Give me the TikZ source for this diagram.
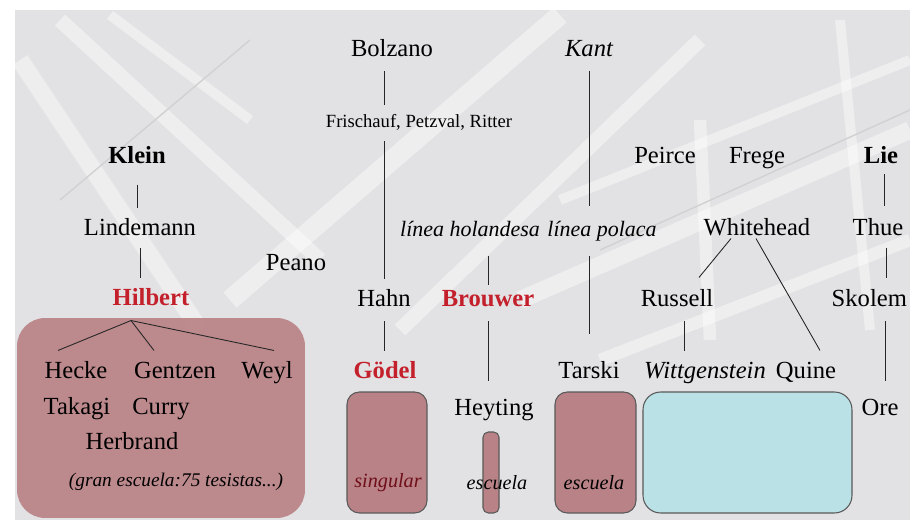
\documentclass[tikz,border=0pt]{standalone}
\usepackage{fontspec}
\setmainfont{Liberation Serif}
\usepackage{xcolor}
\usepackage{tikz}
\usetikzlibrary{positioning, calc}

\definecolor{hilbertred}{RGB}{196,32,44}
\definecolor{schoolrose}{RGB}{185,130,134}
\definecolor{schoolcyan}{RGB}{186,225,230}
\definecolor{photogray}{RGB}{226,226,228}
\definecolor{singularred}{RGB}{110,14,24}

\tikzset{
  person/.style={inner sep=1pt, text height=10pt, text depth=3pt, font=\fontsize{14}{16}\selectfont},
  master/.style={person, font=\fontsize{14}{16}\selectfont\bfseries},
  founder/.style={master, text=hilbertred},
  tradition/.style={person, font=\fontsize{14}{16}\selectfont\itshape},
  crowd/.style={inner sep=1pt, text height=7.5pt, text depth=2pt, font=\fontsize{10.6}{12}\selectfont},
  school/.style={draw=black!65, line width=0.6pt, fill=schoolrose, rounded corners=7pt, inner sep=0pt},
  schoolnote/.style={inner sep=1pt, font=\fontsize{11.5}{13}\selectfont\itshape},
  link/.style={line width=0.5pt, black!85, shorten <=4.5pt, shorten >=4.5pt},
  photobar/.style={white, opacity=0.42, line cap=butt},
}

\begin{document}
\begin{tikzpicture}[x=0.02cm, y=-0.02cm]
\useasboundingbox (0,0) rectangle (910,520);

% Background photo
\fill[white] (0,0) rectangle (910,520);
\fill[photogray] (15,10) rectangle (910,520);
\begin{scope}
\clip (15,10) rectangle (910,520);
\draw[photobar, line width=0.35cm] (20,60) -- (200,330);
\draw[photobar, line width=0.3cm] (60,20) -- (320,260);
\draw[photobar, line width=0.2cm] (110,15) -- (250,120);
\draw[photobar, line width=0.4cm] (230,300) -- (560,15);
\draw[photobar, line width=0.3cm] (400,330) -- (700,40);
\draw[photobar, line width=0.35cm] (520,300) -- (910,130);
\draw[photobar, line width=0.25cm] (600,360) -- (910,240);
\draw[photobar, line width=0.2cm] (560,200) -- (910,60);
\draw[photobar, line width=0.25cm] (700,120) -- (710,340);
\draw[photobar, line width=0.2cm] (840,20) -- (870,330);
\draw[black!18, line width=0.8pt] (60,200) -- (250,40);
\draw[black!18, line width=0.8pt] (600,250) -- (910,110);
\end{scope}

% Schools
\node[school, draw=none, fill opacity=0.92, rounded corners=16pt, minimum width=5.76cm, minimum height=4cm] (hilbertbox) at (161,418) {};
\node[school, minimum width=1.6cm, minimum height=2.42cm] (goedelbox) at (387,452.5) {};
\node[school, rounded corners=3pt, minimum width=0.32cm, minimum height=1.62cm] (heytingbox) at (491,472.5) {};
\node[school, minimum width=1.62cm, minimum height=2.42cm] (tarskibox) at (595.5,452.5) {};
\node[school, fill=schoolcyan, rounded corners=10pt, minimum width=4.18cm, minimum height=2.42cm] (circlebox) at (747.5,452.5) {};

% Upper names
\node[person] (bolzano) at (392,50) {Bolzano};
\node[tradition] (kant) at (589,50) {Kant};
\node[crowd] (frisch) at (419,123) {Frischauf, Petzval, Ritter};
\node[master] (klein) at (137,157) {Klein};
\node[person] (peirce) at (665,157) {Peirce};
\node[person] (frege) at (757,157) {Frege};
\node[master] (lie) at (881,157) {Lie};
\node[person] (lindemann) at (140,229) {Lindemann};
\node[tradition, font=\fontsize{12.5}{14}\selectfont\itshape] (holandesa) at (470,230) {línea holandesa};
\node[tradition, font=\fontsize{12.5}{14}\selectfont\itshape] (polaca) at (602,230) {línea polaca};
\node[person] (whitehead) at (757,229) {Whitehead};
\node[person] (thue) at (878,229) {Thue};
\node[person] (peano) at (296,264) {Peano};

% Middle row
\node[founder] (hilbert) at (151,299) {Hilbert};
\node[person] (hahn) at (384,300) {Hahn};
\node[founder] (brouwer) at (488,300) {Brouwer};
\node[person] (russell) at (677,300) {Russell};
\node[person, anchor=east] (skolem) at (909,300) {Skolem};

% Students
\node[person] (hecke) at (76,372) {Hecke};
\node[person] (gentzen) at (175,372) {Gentzen};
\node[person] (weyl) at (267,372) {Weyl};
\node[person] (takagi) at (77,408) {Takagi};
\node[person] (curry) at (161,408) {Curry};
\node[person] (herbrand) at (132,443) {Herbrand};
\node[founder] (goedel) at (385,372) {Gödel};
\node[person] (tarski) at (589,372) {Tarski};
\node[tradition] (witt) at (705,372) {Wittgenstein};
\node[person] (quine) at (806,372) {Quine};
\node[person] (heyting) at (494,409) {Heyting};
\node[person] (ore) at (880,409) {Ore};

% Notes in the schools
\node[schoolnote, font=\fontsize{11}{13}\selectfont\itshape] (gran) at (176,482) {(gran escuela:75 tesistas...)};
\node[schoolnote, text=singularred] (singular) at (388,483) {singular};
\node[schoolnote] (escuelaA) at (497,483) {escuela};
\node[schoolnote] (escuelaB) at (594,483) {escuela};

% Lines
\draw[link] (hahn.north |- bolzano.south) -- (hahn.north |- frisch.north);
\draw[link] (hahn.north |- frisch.south) -- (hahn.north);
\draw[link, shorten >=6pt] (kant.south) -- (kant.south |- polaca.north);
\draw[link, shorten <=7pt, shorten >=14pt] (tarski.north |- polaca.south) -- (tarski.north);
\draw[link, shorten <=7pt, shorten >=1pt] (brouwer.north |- holandesa.south) -- (brouwer.north);
\draw[link, shorten >=8pt] (brouwer.south) -- (brouwer.south |- heyting.north);
\draw[link] (hahn.south) -- (hahn.south |- goedel.north);
\draw[link, shorten <=8pt] (klein.south) -- (klein.south |- lindemann.north);
\draw[link, shorten <=3pt] (lindemann.south) -- (lindemann.south |- hilbert.north);
\draw[link] ([xshift=4pt]russell.south) -- ([xshift=4pt]russell.south |- witt.north);
\draw[link, shorten <=2pt, shorten >=5.5pt] ([xshift=2pt]lie.south) -- ([xshift=2pt]lie.south |- thue.north);
\draw[link, shorten <=3pt, shorten >=5pt] ([xshift=5pt]thue.south) -- ([xshift=5pt]thue.south |- skolem.north);
\draw[link, shorten >=8pt] ([xshift=3pt]ore.north |- skolem.south) -- ([xshift=3pt]ore.north);
\draw[link, shorten <=0pt, shorten >=0pt] ($(whitehead.south)+(-26,-4)$) -- ($(russell.north)+(22,-9)$);
\draw[link, shorten <=0pt, shorten >=0pt] ($(whitehead.south)+(-1,-4)$) -- ($(quine.north)+(14,-8)$);
\draw[link, shorten <=0pt, shorten >=0pt] ($(hilbert.south)+(-20,8)$) -- ($(hecke.north)+(-18,-8)$);
\draw[link, shorten <=0pt, shorten >=0pt] ($(hilbert.south)+(-20,8)$) -- ($(gentzen.north)+(-21,-8)$);
\draw[link, shorten <=0pt, shorten >=0pt] ($(hilbert.south)+(-20,8)$) -- ($(weyl.north)+(7,-8)$);
\end{tikzpicture}
\end{document}
